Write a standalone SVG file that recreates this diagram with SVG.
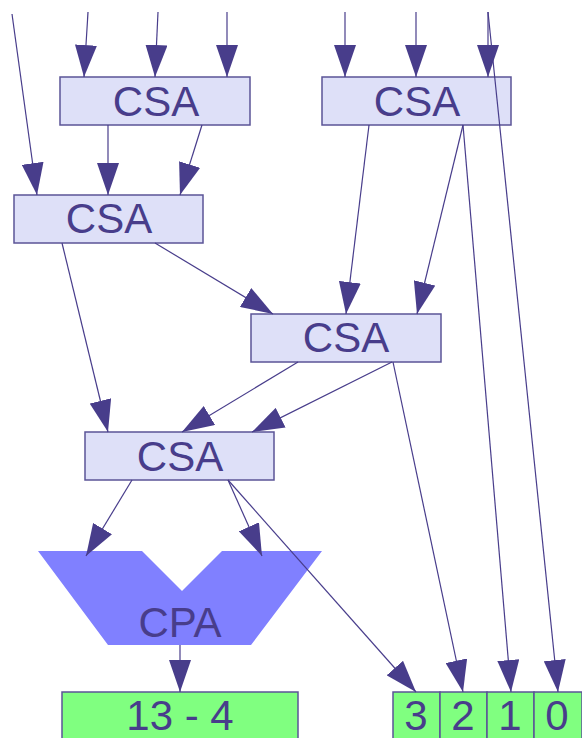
<svg xmlns="http://www.w3.org/2000/svg" width="582" height="738" viewBox="0 0 582 738">
<style>
.box{fill:#dee0f8;stroke:#5b5497;stroke-width:1.5}
.out{fill:#80ff80;stroke:#5b5497;stroke-width:1.5}
.lbl{font-family:"Liberation Sans",Arial,sans-serif;font-size:42px;fill:#483d8b;text-anchor:middle}
.c line{stroke:#483d8b;stroke-width:1.2;marker-end:url(#ah)}
</style>
<defs>
<marker id="ah" viewBox="0 0 32 22" refX="32" refY="11" markerWidth="32" markerHeight="22" markerUnits="userSpaceOnUse" orient="auto">
<path d="M0,0 L32,11 L0,22 z" fill="#483d8b"/>
</marker>
</defs>
<g id="csa1"><rect class="box" x="60" y="77" width="190" height="48"/><text class="lbl" x="156" y="116">CSA</text></g>
<g id="csa3"><rect class="box" x="322" y="77" width="189" height="48"/><text class="lbl" x="417" y="116">CSA</text></g>
<g id="csa2"><rect class="box" x="14" y="195" width="189" height="48"/><text class="lbl" x="109" y="233">CSA</text></g>
<g id="csa4"><rect class="box" x="251" y="314" width="190" height="48"/><text class="lbl" x="346" y="352">CSA</text></g>
<g id="csa5"><rect class="box" x="85" y="432" width="189" height="48"/><text class="lbl" x="180" y="471">CSA</text></g>
<g id="cpa"><polygon points="38,551 142,551 182,591 222,551 322,551 251,645 108,645" fill="#8080ff"/><text class="lbl" x="180" y="637">CPA</text></g>
<g id="hi"><rect class="out" x="62" y="692" width="236" height="50"/><text class="lbl" x="180" y="730">13 - 4</text></g>
<g id="b3"><rect class="out" x="393" y="692" width="47" height="50"/><text class="lbl" x="416" y="730">3</text></g>
<g id="b2"><rect class="out" x="440" y="692" width="47" height="50"/><text class="lbl" x="463" y="730">2</text></g>
<g id="b1"><rect class="out" x="487" y="692" width="47" height="50"/><text class="lbl" x="510" y="730">1</text></g>
<g id="b0"><rect class="out" x="534" y="692" width="48" height="50"/><text class="lbl" x="557" y="730">0</text></g>
<g id="connectors" class="c">
<line x1="88" y1="12" x2="84" y2="77"/>
<line x1="158" y1="12" x2="155" y2="77"/>
<line x1="227" y1="12" x2="227" y2="77"/>
<line x1="345" y1="12" x2="345" y2="77"/>
<line x1="416" y1="12" x2="416" y2="77"/>
<line x1="488" y1="12" x2="488" y2="77"/>
<line x1="12" y1="14" x2="37" y2="195"/>
<line x1="108" y1="125" x2="108" y2="195"/>
<line x1="202" y1="125" x2="180" y2="195"/>
<line x1="369" y1="125" x2="346" y2="314"/>
<line x1="463" y1="125" x2="417" y2="314"/>
<line x1="463" y1="125" x2="511" y2="692"/>
<line x1="488" y1="12" x2="558" y2="692"/>
<line x1="155" y1="243" x2="273" y2="314"/>
<line x1="62" y1="243" x2="108" y2="432"/>
<line x1="298" y1="362" x2="182" y2="432"/>
<line x1="392" y1="362" x2="252" y2="432"/>
<line x1="393" y1="362" x2="463" y2="692"/>
<line x1="132" y1="480" x2="86" y2="556"/>
<line x1="228" y1="480" x2="262" y2="556"/>
<line x1="228" y1="480" x2="416" y2="692"/>
<line x1="180" y1="645" x2="180" y2="692"/>
</g>
</svg>
